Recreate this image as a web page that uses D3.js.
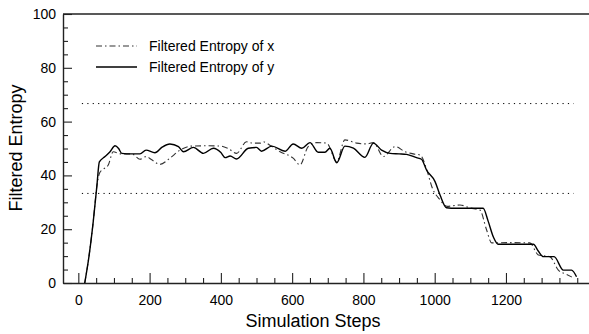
<!DOCTYPE html>
<html>
<head>
<meta charset="utf-8">
<script src="https://cdn.jsdelivr.net/npm/d3@7"></script>
<style>
	body { margin: 0; background: #fff; }
	svg text { font-family: "Liberation Sans", Arial, sans-serif; fill: #000; }
</style>
</head>
<body>
<div id="graph"></div>
<script>
// values
var stepsY = [18,30,42,52,59,75,89,103,113,122,150,173,190,215,235,257,281,295,323,351,379,400,412,426,444,477,500,514,543,580,603,627,650,673,692,706,725,748,772,804,828,851,875,900,921,949,963,977,1001,1015,1033,1060,1100,1136,1150,1165,1178,1230,1277,1290,1305,1335,1361,1384,1398];
var entropyY = [0,10,23,36,45,47,48.8,51,50,48.2,48,48,49.4,48.4,50.5,51.7,50.7,48.8,50.4,48.2,50.1,48.5,46.6,47.2,46.1,50.1,50.4,49,50.9,49,51.7,50.1,52.2,48.6,48.6,50.1,44.7,50.9,50.1,46.7,52,49.4,48.2,48,47.8,46.6,46,42,37.7,32.7,28,27.8,27.8,27.8,23,17,14.4,14.4,14.4,12,9.8,9.8,4.8,4.8,2.3];

var stepsX = [18,30,42,52,60,70,84,98,120,150,173,190,206,229,257,285,318,360,398,420,444,472,490,510,519,540,566,603,622,645,669,697,725,748,781,809,828,856,889,917,940,959,978,992,1015,1035,1071,1099,1127,1145,1160,1211,1267,1291,1323,1347,1370,1385];
var entropyX = [0,10,23,36,41,42.3,43.9,48.8,48,48,46,47,45.8,44.1,46.4,49.4,50.9,51,50.9,50,48.2,52.5,52,52,52.5,51,48.8,46.4,43.9,50.7,52.2,52,45.1,53.2,52,51.7,52.2,47,50.7,48.8,48,47.6,42,35.8,30.9,28.5,29,27.9,27.1,20,14.9,15,14.9,10.4,9.8,4.8,3.2,2.2];

var thresholds = [66.7, 33.3];
var thresholdSpan = [10, 1390];
var seriesNames = ["Filtered Entropy of x", "Filtered Entropy of y"];
var xLabels = [0,200,400,600,800,1000,1200];
var yLabels = [0,20,40,60,80,100];
var xTicks = d3.range(0, 1401, 50);
var yTicks = d3.range(0, 101, 5);

var width = 589, height = 334;
var padding = {left: 63, right: 0, top: 14, bottom: 51};

var graph = d3.select("div#graph")
	.append("svg")
	.attr("width", width)
	.attr("height", height);

var xScale = d3.scaleLinear()
	.range([padding.left, width - padding.right])
	.domain([-43, 1433]);

var yScale = d3.scaleLinear()
	.range([height - padding.bottom, padding.top])
	.domain([0, 100]);

var xAxis = d3.axisBottom(xScale)
	.tickValues(xTicks)
	.tickSize(-10)
	.tickPadding(12)
	.tickSizeOuter(0)
	.tickFormat(d => xLabels.includes(d) ? d : "");

var yAxis = d3.axisLeft(yScale)
	.tickValues(yTicks)
	.tickSize(-9)
	.tickPadding(7)
	.tickSizeOuter(0)
	.tickFormat(d => yLabels.includes(d) ? d : "");

graph.append("g")
	.attr("class", "x axis")
	.attr("transform", `translate(0, ${height - padding.bottom})`)
	.call(xAxis)
	.call(g => g.selectAll(".tick line").attr("y2", d => xLabels.includes(d) ? -10 : -5))
	.selectAll("text")
	.style("font-size", "14px");

graph.append("g")
	.attr("class", "y axis")
	.attr("transform", `translate(${padding.left}, 0)`)
	.call(yAxis)
	.call(g => g.selectAll(".tick line").attr("x2", d => yLabels.includes(d) ? 9 : 5))
	.selectAll("text")
	.style("font-size", "14px");

graph.selectAll(".domain").attr("stroke", "#222").attr("stroke-width", 1.4);
graph.selectAll(".tick line").attr("stroke", "#222").attr("stroke-width", 1.1);

// top border
graph.append("line")
	.attr("x1", padding.left)
	.attr("x2", width - padding.right)
	.attr("y1", yScale(100))
	.attr("y2", yScale(100))
	.attr("stroke", "#222")
	.attr("stroke-width", 1.4);

graph.append("text")
	.attr("transform", "rotate(-90)")
	.attr("x", -148)
	.attr("y", 22)
	.style("text-anchor", "middle")
	.style("font-size", "18px")
	.text("Filtered Entropy");

graph.append("text")
	.attr("x", 313)
	.attr("y", 327)
	.style("text-anchor", "middle")
	.style("font-size", "18px")
	.text("Simulation Steps");

graph.selectAll("line.threshold")
	.data(thresholds)
	.enter()
	.append("line")
	.attr("class", "threshold")
	.attr("x1", xScale(thresholdSpan[0]))
	.attr("x2", xScale(thresholdSpan[1]))
	.attr("y1", d => yScale(d))
	.attr("y2", d => yScale(d))
	.attr("stroke", "#000")
	.attr("stroke-width", 1)
	.attr("stroke-dasharray", "1.2,4.2");

var line = d3.line()
	.curve(d3.curveMonotoneX)
	.x(d => xScale(d[0]))
	.y(d => yScale(d[1]));

var seriesX = d3.zip(stepsX, entropyX);
var seriesY = d3.zip(stepsY, entropyY);

graph.append("path").datum(seriesX)
	.attr("fill", "none")
	.attr("stroke", "#333")
	.attr("stroke-width", 1.1)
	.attr("stroke-dasharray", "6,3,1.5,3")
	.attr("d", line);

graph.append("path").datum(seriesY)
	.attr("fill", "none")
	.attr("stroke", "#000")
	.attr("stroke-width", 1.4)
	.attr("stroke-linejoin", "round")
	.attr("d", line);

// legend
var legend = graph.append("g").attr("class", "legend");
var legendStyles = [{dash: "6,3,1.5,3", color: "#333", w: 1.1}, {dash: null, color: "#000", w: 1.3}];

legend.selectAll("line")
	.data(seriesNames)
	.enter()
	.append("line")
	.attr("x1", 96)
	.attr("x2", 137)
	.attr("y1", (d, i) => 46 + 21 * i)
	.attr("y2", (d, i) => 46 + 21 * i)
	.attr("stroke", (d, i) => legendStyles[i].color)
	.attr("stroke-width", (d, i) => legendStyles[i].w)
	.attr("stroke-dasharray", (d, i) => legendStyles[i].dash);

legend.selectAll("text")
	.data(seriesNames)
	.enter()
	.append("text")
	.attr("x", 149)
	.attr("y", (d, i) => 46 + 21 * i)
	.attr("dy", "0.35em")
	.style("font-size", "14px")
	.text(d => d);
</script>
</body>
</html>
